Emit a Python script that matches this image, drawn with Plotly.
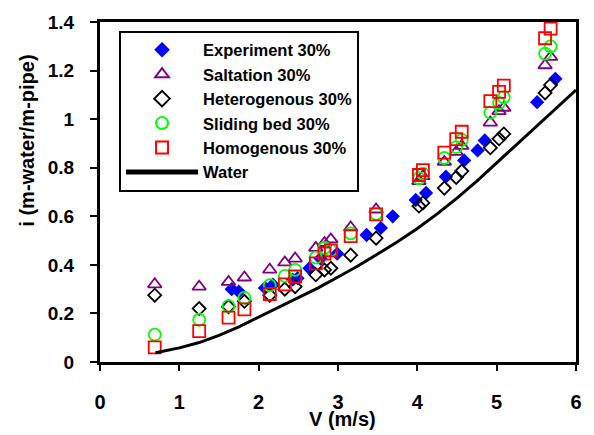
import plotly.graph_objects as go

# ---- data ----
exp_v = [1.66, 1.75, 2.08, 2.18, 2.43, 2.49, 2.64, 2.78, 2.99, 3.36, 3.54, 3.69,
         3.98, 4.11, 4.36, 4.59, 4.76, 4.85, 5.51, 5.74]
exp_i = [0.300, 0.290, 0.305, 0.318, 0.339, 0.345, 0.386, 0.426, 0.446, 0.523, 0.552, 0.600,
         0.667, 0.696, 0.763, 0.830, 0.871, 0.912, 1.070, 1.166]

model_v = [0.69, 1.25, 1.62, 1.82, 2.14, 2.33, 2.46, 2.72, 2.83, 2.91, 3.16, 3.48,
           4.02, 4.07, 4.34, 4.49, 4.56, 4.92, 5.03, 5.09, 5.61, 5.68]
salt_i = [0.320, 0.310, 0.330, 0.348, 0.380, 0.410, 0.426, 0.470, 0.490, 0.505, 0.554, 0.628,
          0.745, 0.765, 0.824, 0.865, 0.890, 0.986, 1.033, 1.047, 1.222, 1.256]
het_i = [0.275, 0.220, 0.228, 0.250, 0.275, 0.300, 0.310, 0.359, 0.379, 0.386, 0.440, 0.510,
         0.642, 0.655, 0.716, 0.760, 0.786, 0.882, 0.919, 0.939, 1.108, 1.141]
slide_i = [0.113, 0.174, 0.230, 0.264, 0.316, 0.355, 0.379, 0.430, 0.470, 0.460, 0.530, 0.610,
           0.756, 0.776, 0.840, 0.885, 0.915, 1.027, 1.067, 1.090, 1.270, 1.300]
homo_i = [0.060, 0.127, 0.183, 0.217, 0.280, 0.320, 0.352, 0.406, 0.446, 0.460, 0.518, 0.608,
          0.770, 0.790, 0.862, 0.918, 0.948, 1.074, 1.112, 1.138, 1.333, 1.373]

water_v = [0.70, 1.00, 1.25, 1.50, 1.75, 2.00, 2.25, 2.50, 2.75, 3.00, 3.25, 3.50, 3.75,
           4.00, 4.25, 4.50, 4.75, 5.00, 5.25, 5.50, 5.75, 6.00]
water_i = [0.038, 0.058, 0.080, 0.110, 0.145, 0.185, 0.222, 0.265, 0.305, 0.350, 0.395, 0.445, 0.495,
           0.550, 0.610, 0.675, 0.745, 0.820, 0.895, 0.970, 1.045, 1.120]

x_ticks = [0, 1, 2, 3, 4, 5, 6]
y_ticks = [0, 0.2, 0.4, 0.6, 0.8, 1.0, 1.2, 1.4]
y_tick_text = ["0", "0.2", "0.4", "0.6", "0.8", "1", "1.2", "1.4"]

FONT = "Liberation Sans, Arial, sans-serif"

fig = go.Figure()
fig.add_trace(go.Scatter(x=exp_v, y=exp_i, mode="markers", name="Experiment 30%",
                         marker=dict(symbol="diamond", size=11, color="#0000FF",
                                     line=dict(width=0))))
fig.add_trace(go.Scatter(x=model_v, y=salt_i, mode="markers", name="Saltation 30%",
                         marker=dict(symbol="triangle-up-open", size=12, color="#800080",
                                     line=dict(width=1.8, color="#800080"))))
fig.add_trace(go.Scatter(x=model_v, y=het_i, mode="markers", name="Heterogenous 30%",
                         marker=dict(symbol="diamond-open", size=10, color="#000000",
                                     line=dict(width=1.8, color="#000000"))))
fig.add_trace(go.Scatter(x=model_v, y=slide_i, mode="markers", name="Sliding bed 30%",
                         marker=dict(symbol="circle-open", size=12, color="#00FF00",
                                     line=dict(width=1.8, color="#00FF00"))))
fig.add_trace(go.Scatter(x=model_v, y=homo_i, mode="markers", name="Homogenous 30%",
                         marker=dict(symbol="square-open", size=12, color="#FF0000",
                                     line=dict(width=1.8, color="#FF0000"))))
fig.add_trace(go.Scatter(x=water_v, y=water_i, mode="lines", name="Water",
                         line=dict(color="#000000", width=3)))

L, R, T, B = 100, 13, 16, 73
pw, ph = 594 - L - R, 435 - T - B


def ann(text, px, py, angle=0):
    return dict(text=text, textangle=angle, showarrow=False,
                xref="paper", yref="paper",
                x=(px - L) / pw, y=1 - (py - T) / ph,
                xanchor="center", yanchor="middle",
                font=dict(family=FONT, size=20, color="black", weight="bold"))


fig.update_layout(
    width=594, height=435,
    margin=dict(l=L, r=R, t=T, b=B),
    paper_bgcolor="white", plot_bgcolor="white",
    font=dict(family=FONT, size=18, color="black", weight="bold"),
    showlegend=True,
    legend=dict(x=0.04, y=0.975, xanchor="left", yanchor="top",
                bgcolor="white", bordercolor="black", borderwidth=2,
                font=dict(family=FONT, size=16.5, color="black", weight="bold"),
                tracegroupgap=0, itemsizing="constant", itemwidth=72),
    xaxis=dict(range=[0, 6], tickvals=x_ticks, ticks="outside", ticklen=6, tickwidth=2,
               tickcolor="black", showline=True, linewidth=3, linecolor="black",
               mirror=True, showgrid=False, zeroline=False,
               tickfont=dict(family=FONT, size=20, weight="bold"), ticklabelstandoff=14),
    yaxis=dict(range=[0, 1.4], tickvals=y_ticks, ticktext=y_tick_text, ticks="outside",
               ticklen=7, tickwidth=2, tickcolor="black", showline=True, linewidth=3,
               linecolor="black", mirror=True, showgrid=False, zeroline=False,
               tickfont=dict(family=FONT, size=19, weight="bold"), ticklabelstandoff=12),
    annotations=[
        ann("V (m/s)", 345, 420),
        ann("i (m-water/m-pipe)", 26, 137, -90),
    ],
)

fig.write_html("out.html")
